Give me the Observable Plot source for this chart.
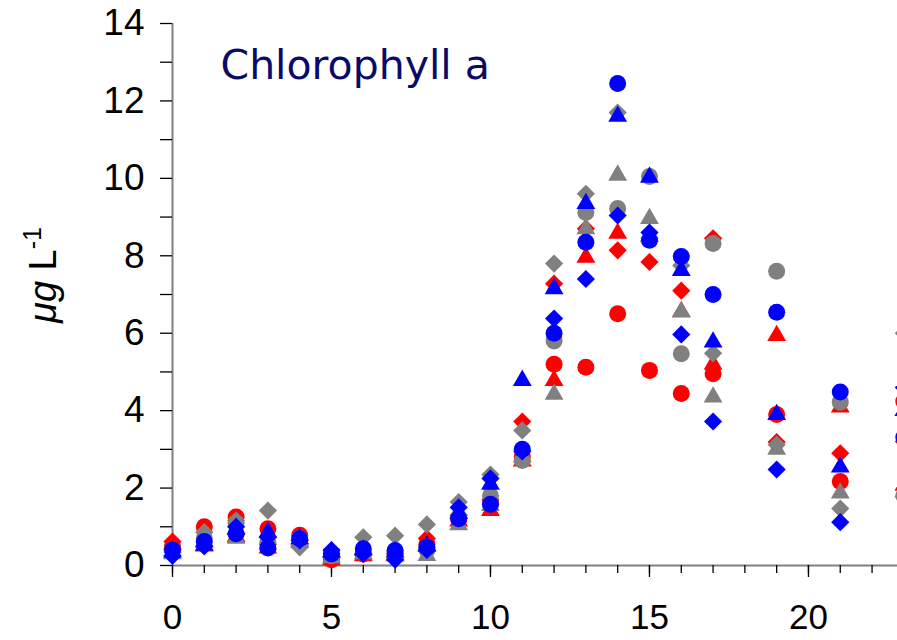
<!DOCTYPE html>
<html>
<head>
<meta charset="utf-8">
<script src="https://cdn.jsdelivr.net/npm/d3@7"></script>
<script src="https://cdn.jsdelivr.net/npm/@observablehq/plot@0.6"></script>
<style>
html, body { margin: 0; padding: 0; background: #fff; overflow: hidden; }
#chart svg { overflow: hidden; display: block; }
</style>
</head>
<body>
<div id="chart"></div>
<script>
// ---- Data ----
const days = [0, 1, 2, 3, 4, 5, 6, 7, 8, 9, 10, 11, 12, 13, 14, 15, 16, 17, 19, 21, 23];

const redCircle     = [0.50, 1.00, 1.25, 0.95, 0.78, 0.15, 0.30, 0.30, 0.55, 1.20, 1.60, 2.80, 5.20, 5.12, 6.50, 5.04, 4.44, 4.95, 3.90, 2.17, 4.24];
const redTriangle   = [0.55, 0.50, 0.75, 0.45, 0.60, 0.15, 0.25, 0.25, 0.50, 1.15, 1.42, 2.70, 4.78, 7.96, 8.58, 8.50, 6.55, 5.20, 5.94, 4.09, 2.07];
const redDiamond    = [0.62, 0.50, 0.80, 0.55, 0.65, 0.20, 0.30, 0.30, 0.70, 1.30, 1.70, 3.72, 7.28, 8.70, 8.14, 7.84, 7.10, 8.45, 3.19, 2.90, 3.20];
const greyCircle    = [0.40, 0.70, 1.10, 0.60, 0.70, 0.25, 0.35, 0.35, 0.40, 1.25, 1.80, 2.71, 5.80, 9.12, 9.22, 10.05, 5.47, 8.32, 7.60, 4.22, 1.80];
const greyTriangle  = [0.30, 0.60, 0.70, 0.55, 0.65, 0.20, 0.30, 0.30, 0.26, 1.05, 1.55, 2.80, 4.42, 8.70, 10.08, 8.96, 6.55, 4.35, 3.00, 1.87, 1.90];
const greyDiamond   = [0.35, 0.86, 1.16, 1.42, 0.47, 0.30, 0.73, 0.77, 1.06, 1.64, 2.35, 3.49, 7.80, 9.60, 11.70, 8.45, 7.75, 5.48, 3.12, 1.47, 6.00];
const blueCircle    = [0.40, 0.62, 0.82, 0.45, 0.69, 0.30, 0.43, 0.39, 0.47, 1.21, 1.58, 3.00, 6.00, 8.35, 12.45, 8.40, 7.98, 7.00, 6.54, 4.48, 3.31];
const blueTriangle  = [0.35, 0.52, 0.95, 0.86, 0.69, 0.35, 0.40, 0.35, 0.50, 1.35, 2.10, 4.78, 7.15, 9.35, 11.60, 10.03, 7.62, 5.77, 3.90, 2.54, 4.00];
const blueDiamond   = [0.25, 0.50, 1.00, 0.73, 0.65, 0.40, 0.30, 0.15, 0.40, 1.50, 2.25, 2.95, 6.38, 7.40, 9.04, 8.60, 5.97, 3.72, 2.48, 1.12, 4.60];

const groups = ["red", "grey", "blue"];
const shapes = ["circle", "triangle", "diamond"];
const seriesValues = {
  "red circle": redCircle, "red triangle": redTriangle, "red diamond": redDiamond,
  "grey circle": greyCircle, "grey triangle": greyTriangle, "grey diamond": greyDiamond,
  "blue circle": blueCircle, "blue triangle": blueTriangle, "blue diamond": blueDiamond
};

const yTicks = d3.range(0, 15, 1);
const yLabels = [0, 2, 4, 6, 8, 10, 12, 14];
const xTicks = d3.range(0, 23, 1);
const xLabels = [0, 5, 10, 15, 20];
const titleText = "Chlorophyll a";

// ---- Build table ----
const rows = [];
for (const g of groups) for (const s of shapes) {
  seriesValues[g + " " + s].forEach((v, i) => rows.push({day: days[i], value: v, group: g, shape: s}));
}

const colorOf = {red: "#ff0000", grey: "#808080", blue: "#0000ff"};
const symbolOf = {circle: "circle", triangle: "triangle", diamond: "diamond2"};
const rOf = {circle: 8.5, triangle: 7.0, diamond: 8.2};

const dotMarks = [];
for (const g of groups) for (const s of shapes) {
  dotMarks.push(Plot.dot(rows.filter(d => d.group === g && d.shape === s), {
    x: "day", y: "value", symbol: () => symbolOf[s], r: rOf[s],
    fill: colorOf[g], stroke: "none"
  }));
}

const chart = Plot.plot({
  width: 897,
  height: 640,
  marginLeft: 172,
  marginRight: 0,
  marginTop: 23,
  marginBottom: 75,
  x: {domain: [0, 22.8]},
  y: {domain: [0, 14]},
  symbol: {type: "identity"},
  style: {fontFamily: "'Liberation Sans', Arial, sans-serif", fontSize: "36px", color: "#000", background: "#fff"},
  marks: [
    Plot.ruleY([0], {stroke: "#808080", strokeWidth: 2}),
    Plot.ruleX([0], {stroke: "#808080", strokeWidth: 2}),
    Plot.axisY({ticks: yTicks, tickSize: 12, tickPadding: 16, tickFormat: d => (yLabels.includes(d) ? String(d) : ""), label: null, fontSize: 37, stroke: "#000", strokeWidth: 1.3}),
    Plot.axisX({ticks: xTicks, tickSize: 8, tickFormat: () => "", label: null, stroke: "#000", strokeWidth: 1.3}),
    Plot.axisX({ticks: xLabels, tickSize: 12, tickPadding: 27, label: null, fontSize: 35, stroke: "#000", strokeWidth: 1.3}),
    ...dotMarks,
    Plot.text([titleText], {frameAnchor: "top-left", dx: 48, dy: 26, textAnchor: "start", lineAnchor: "top",
      fontSize: 41, fill: "#0a0a6b", fontFamily: "'Comic Sans MS', 'DejaVu Sans', sans-serif", letterSpacing: "4px"})
  ]
});

document.getElementById("chart").appendChild(chart);

// y-axis label with italic unit and superscript
const svg = d3.select(chart);
const lbl = svg.append("text")
  .attr("transform", "translate(56,275) rotate(-90)")
  .attr("text-anchor", "middle")
  .attr("font-family", "'Liberation Sans', Arial, sans-serif")
  .attr("font-size", 38)
  .attr("fill", "#000");
lbl.append("tspan").attr("font-style", "italic").text("μg");
lbl.append("tspan").text(" L");
lbl.append("tspan").attr("font-size", 25).attr("dy", -15).text("-1");
</script>
</body>
</html>
